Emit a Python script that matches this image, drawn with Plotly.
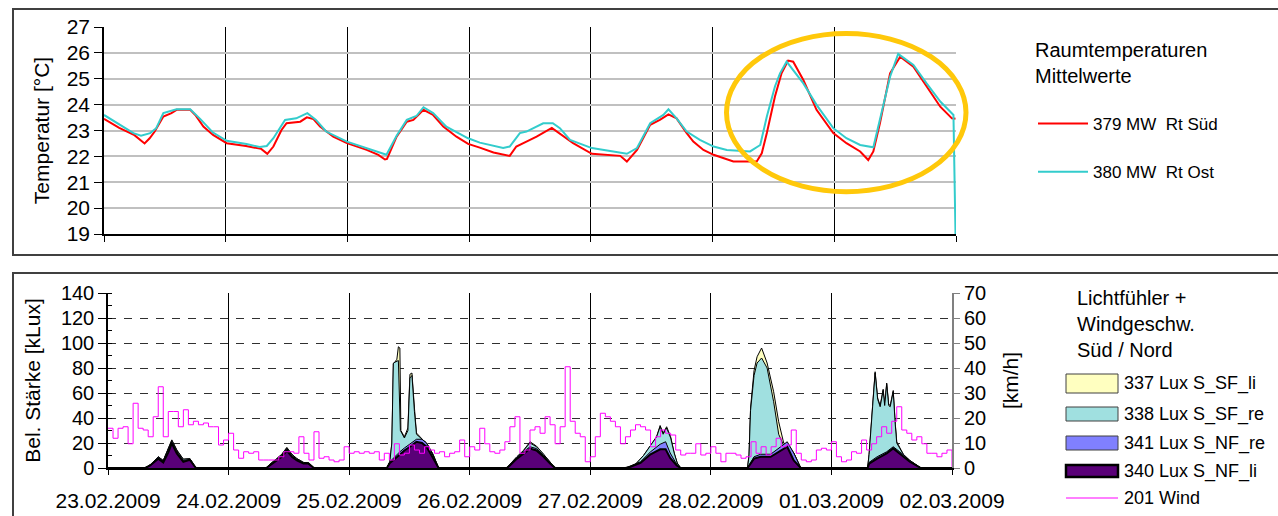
import plotly.graph_objects as go

W, H = 1278, 516
FONT = "Liberation Sans, Arial, sans-serif"

# ---------------- data ----------------
# hours since 23.02.2009 00:00
day_ticks = [0, 24, 48, 72, 96, 120, 144, 168]
day_labels = ["23.02.2009", "24.02.2009", "25.02.2009", "26.02.2009",
              "27.02.2009", "28.02.2009", "01.03.2009", "02.03.2009"]

t_sued = [0, 3, 6, 8, 9, 10, 11.7, 13.3, 14.3, 17, 18, 19.6, 21.5, 24.2, 28, 31, 32.2, 33.4,
          35, 36, 38.7, 40, 41.3, 42.6, 45.2, 47.9, 51.8, 54.1, 55.4, 55.8, 57.7, 59.7, 61,
          63, 64.9, 66.9, 69.5, 71.8, 74.1, 76.8, 80, 81.3, 83.3, 85.3, 88.3, 90.6, 92.5,
          96.2, 100.4, 101.8, 103.1, 105.1, 107.7, 109.6, 111.3, 112.9, 114.9, 116.2, 118.2,
          120.2, 124.1, 128.7, 129.7, 130.7, 132.3, 133.6, 134.9, 135.9, 137.9, 140.5, 143.8,
          146.4, 149.1, 150.7, 151.7, 153, 155, 157, 159.6, 162.2, 164.9, 167.2, 167.9]
v_sued = [23.45, 23.1, 22.82, 22.5, 22.7, 22.96, 23.54, 23.67, 23.8, 23.8, 23.6, 23.15, 22.83,
          22.51, 22.4, 22.29, 22.1, 22.38, 23.02, 23.28, 23.34, 23.51, 23.44, 23.15, 22.76,
          22.51, 22.25, 22.06, 21.88, 21.9, 22.76, 23.34, 23.41, 23.8, 23.6, 23.15, 22.76,
          22.48, 22.34, 22.15, 22.02, 22.38, 22.57, 22.76, 23.1, 22.76, 22.51, 22.1, 22.02,
          22.02, 21.8, 22.25, 23.22, 23.41, 23.62, 23.47, 22.9, 22.57, 22.25, 22.06, 21.8,
          21.8, 22.12, 22.9, 24.31, 25.21, 25.7, 25.66, 24.95, 23.8, 22.9, 22.51, 22.19,
          21.86, 22.19, 23.28, 25.21, 25.85, 25.47, 24.7, 23.92, 23.47, 23.45]

t_ost = [0, 3.2, 5.8, 7.3, 9.1, 10.3, 11.7, 14.3, 17, 19, 21.5, 24.2, 28.1, 30.7, 32.1, 33.4,
         35.7, 37.9, 40.1, 41.8, 43.8, 47.9, 51.8, 55.4, 55.7, 57.7, 59.7, 61.6, 63, 64.9,
         67.5, 71.8, 74.1, 78.7, 80, 82, 83.3, 86.6, 88.5, 89.9, 91.9, 96.2, 99.8, 103.1,
         105.1, 107.7, 110.3, 111.3, 112.9, 114.9, 117.5, 120.2, 122.8, 127.4, 129.4, 130.7,
         132.3, 133.3, 134.6, 137.9, 140.5, 143.8, 146.4, 149.1, 151.7, 153, 155, 156.6,
         159.6, 162.2, 164.9, 167.5, 167.9]
v_ost = [23.6, 23.22, 22.9, 22.8, 22.9, 23.09, 23.67, 23.82, 23.82, 23.44, 22.92, 22.6, 22.48,
         22.36, 22.4, 22.7, 23.41, 23.47, 23.67, 23.41, 22.96, 22.57, 22.32, 22.06, 22.06,
         22.8, 23.41, 23.56, 23.9, 23.67, 23.15, 22.7, 22.53, 22.32, 22.38, 22.9, 22.96,
         23.28, 23.28, 23.09, 22.64, 22.32, 22.19, 22.1, 22.32, 23.28, 23.6, 23.82, 23.47,
         22.96, 22.64, 22.38, 22.25, 22.19, 22.44, 23.54, 24.7, 25.21, 25.66, 24.82, 23.99,
         23.09, 22.7, 22.44, 22.35, 23.41, 25.08, 25.96, 25.53, 24.82, 24.12, 23.6, 19.0]

# light sensors [kLux]
t_340 = [0, 7.4, 8.4, 10, 11, 12, 12.7, 13.7, 15, 16.3, 17.5,
         31.5, 32.2, 33.6, 34.6, 35.6, 36.6, 37.6, 38.9, 39.9, 41,
         55.5, 56.1, 57, 58.1, 59, 60.1, 61.4, 62.5, 63.4, 64.7, 65.8,
         79.4, 80, 81.4, 82.7, 84, 85.3, 86.7, 88, 89,
         103, 104, 106, 108, 109.9, 111, 111.9, 113.2, 114,
         127.3, 128.6, 129.9, 131.9, 133.9, 135.2, 136.5, 137.9,
         151.2, 151.5, 153.1, 155, 156.3, 157.6, 159.6, 161.8, 168]
v_340 = [0, 0, 2, 7.5, 4.5, 12.5, 19.7, 11.7, 5, 6.5, 0,
         0, 2, 6, 9, 14, 9, 6, 3.5, 3.5, 0,
         0, 4, 7, 11, 14, 17, 21, 20, 17, 8, 0,
         0, 2, 7.5, 11.5, 15.5, 14, 9, 3.5, 0,
         0, 1, 4, 11, 15, 15, 8, 2, 0,
         0, 7.5, 9, 9, 14, 17, 6, 0,
         0, 3.5, 7.5, 11.7, 15.7, 11.7, 5, 0, 0]

t_341 = t_340
v_341 = [0, 0, 2.5, 8.5, 5.5, 14, 21, 13, 6, 7, 0,
         0, 2.5, 7, 10, 15.5, 10, 7, 4, 4, 0,
         0, 5, 9, 13, 16, 19, 23, 23, 20, 10, 0,
         0, 2.5, 8.5, 13, 17, 15.5, 10, 4, 0,
         0, 1.5, 5, 13, 19, 21, 12, 3, 0,
         0, 9, 11, 11, 17, 21, 12, 0,
         0, 4.5, 9, 13, 17, 13, 6, 0, 0]

t_338 = [0, 7.4, 8.4, 10, 11, 12, 12.7, 13.7, 15, 16.3, 17.5,
         31.5, 32.2, 33.6, 34.6, 35.6, 36.6, 37.6, 38.9, 39.9, 41,
         55.5, 56.1, 56.5, 56.8, 57.8, 58.2, 59.0, 59.7, 60.1, 60.5, 61.0, 61.4, 62.8, 63.4, 64.7, 65.8,
         79.4, 80, 81.4, 82.7, 84, 85.3, 86.7, 88, 89,
         103.5, 105, 106.6, 107.9, 109.2, 109.9, 110.5, 111.2, 112, 112.7, 113.3, 114,
         127.3, 127.6, 127.9, 128.6, 129.2, 130.1, 131.2, 132.5, 133.5, 134.5, 135.5, 136.5, 137.2, 137.9,
         151.2, 151.5, 152.2, 152.7, 153.2, 153.7, 154.3, 154.6, 155, 155.4, 155.7, 156.3, 156.7, 157,
         158.3, 159.6, 161.8, 168]
v_338 = [0, 0, 2.5, 9, 6, 15, 22, 14, 7, 7.5, 0,
         0, 3, 7.5, 11, 16, 11, 7.5, 4.5, 4, 0,
         0, 5, 20, 84, 86, 30, 24, 30, 72, 74, 45, 27, 22, 20, 11, 0,
         0, 3, 9, 14, 20, 17, 11, 4.5, 0,
         0, 3, 10, 17, 25, 33, 27, 32, 24, 12, 4, 0,
         0, 10, 46, 74, 84, 88, 80, 53, 27, 18, 17, 12, 6, 0,
         0, 11, 49, 76, 55, 49, 62, 50, 67, 50, 49, 61, 35, 20,
         11, 6, 0, 0]

t_337 = [0, 7.4, 8.4, 10, 11, 12, 12.7, 13.7, 15, 16.3, 17.5,
         31.5, 32.2, 33.6, 34.6, 35.6, 36.6, 37.6, 38.9, 39.9, 41,
         55.5, 56.1, 56.5, 56.8, 57.5, 57.8, 58.1, 58.3, 59.0, 59.7, 60.1, 60.5, 61.0, 61.4, 62.8, 63.4, 64.7, 65.8,
         79.4, 80, 81.4, 82.7, 84, 85.3, 86.7, 88, 89,
         103.5, 105, 106.6, 107.9, 109.2, 109.9, 110.5, 111.2, 112, 112.7, 113.3, 114,
         127.3, 127.6, 127.9, 128.6, 129.2, 130.1, 131.2, 132.5, 133.5, 134.5, 135.5, 136.5, 137.2, 137.9,
         151.2, 151.5, 152.2, 152.7, 153.2, 153.7, 154.3, 154.6, 155, 155.4, 155.7, 156.3, 156.7, 157,
         158.3, 159.6, 161.8, 168]
v_337 = [0, 0, 2.5, 9, 6, 15.5, 22.5, 14.5, 7, 7.5, 0,
         0, 3, 7.5, 11, 16.5, 11, 7.5, 4.5, 4, 0,
         0, 5, 20, 83, 87, 97, 96, 30, 25, 32, 75, 76, 48, 28, 22, 20, 11, 0,
         0, 3, 9, 14, 21, 17.5, 11, 4.5, 0,
         0, 3, 10, 17, 25, 34, 28, 33, 25, 12, 4, 0,
         0, 11, 48, 78, 89, 96, 84, 61, 37, 20, 18, 12, 6, 0,
         0, 11, 50, 77, 56, 50, 63, 51, 68, 51, 50, 62, 36, 21,
         11, 6, 0, 0]

# wind [km/h], hourly
t_wind = list(range(0, 169))
v_wind = [15.9, 11.9, 15.9, 16.5, 9.7, 25.9, 15.9, 15.2, 12.5, 20.5, 32.5, 12.5, 22.6, 22.6,
          16.5, 23.3, 17.3, 18.7, 17.3, 18.0, 16.5, 16.5, 9.2, 11.2, 13.9, 7.2, 3.9, 6.5, 5.9,
          6.5, 3.2, 3.2, 3.2, 3.2, 4.5, 6.5, 6.5, 5.9, 12.5, 5.9, 3.2, 14.5, 3.9, 4.5, 3.2,
          2.5, 3.2, 8.5, 5.9, 6.5, 5.9, 6.5, 5.9, 6.5, 3.2, 5.9, 3.2, 9.7, 5.2, 5.9, 9.2, 7.2,
          5.9, 8.5, 7.2, 5.9, 6.5, 4.5, 5.9, 6.5, 11.2, 4.5, 8.5, 7.2, 15.9, 9.7, 6.5, 5.9,
          7.2, 10.5, 16.5, 20.5, 5.9, 7.2, 15.2, 16.5, 13.9, 20.5, 17.3, 9.7, 16.5, 40.5,
          18.7, 13.9, 12.5, 2.5, 4.5, 12.5, 21.9, 20.5, 18.7, 16.5, 9.7, 12.5, 15.2, 17.3,
          16.5, 15.2, 8.5, 12.5, 15.2, 13.9, 13.2, 7.2, 5.2, 5.9, 5.9, 9.7, 5.2, 5.9, 8.5,
          5.9, 2.5, 5.9, 5.9, 5.2, 3.9, 4.5, 10.5, 5.9, 8.5, 5.2, 8.5, 11.9, 8.5, 9.2, 15.2,
          5.9, 3.2, 2.5, 3.2, 7.2, 7.9, 7.2, 10.5, 4.5, 2.5, 3.2, 6.5, 5.9, 11.2, 7.2, 9.7,
          12.5, 16.5, 13.9, 18.7, 24.5, 15.2, 13.9, 11.2, 12.5, 9.7, 5.9, 5.9, 4.5, 5.9,
          7.2, 0.5]

temp_ticks = [19, 20, 21, 22, 23, 24, 25, 26, 27]
lux_ticks = [0, 20, 40, 60, 80, 100, 120, 140]
wind_ticks = [0, 10, 20, 30, 40, 50, 60, 70]

# ---------------- helpers (pixel -> paper) ----------------
def px(x):
    return x / W

def py(y):
    return 1 - y / H

fig = go.Figure()

# top panel traces
fig.add_trace(go.Scatter(x=t_sued, y=v_sued, mode="lines", name="379 MW  Rt Süd",
                         line=dict(color="#FF0000", width=2), xaxis="x", yaxis="y",
                         legend="legend", legendgroup="a"))
fig.add_trace(go.Scatter(x=t_ost, y=v_ost, mode="lines", name="380 MW  Rt Ost",
                         line=dict(color="#33CCCC", width=2), xaxis="x", yaxis="y",
                         legend="legend", legendgroup="b"))

# bottom panel areas (drawn back to front)
areas = [
    (t_337, v_337, "337 Lux S_SF_li", "#FFFFC0", 1),
    (t_338, v_338, "338 Lux S_SF_re", "#A0E0E0", 1),
    (t_341, v_341, "341 Lux S_NF_re", "#8080FF", 1),
    (t_340, v_340, "340 Lux S_NF_li", "#5A0078", 2),
]
for tx, vy, nm, col, lw in areas:
    fig.add_trace(go.Scatter(x=tx, y=vy, mode="lines", name=nm, fill="tozeroy",
                             fillcolor=col, line=dict(color="#000000", width=lw),
                             xaxis="x2", yaxis="y2", showlegend=False))

fig.add_trace(go.Scatter(x=t_wind, y=v_wind, mode="lines", name="201 Wind",
                         line=dict(color="#FF00FF", width=1, shape="hv"),
                         xaxis="x2", yaxis="y3", showlegend=False))

# ---------------- layout ----------------
top_x = [px(104), px(956)]
top_y = [py(234), py(27)]
bot_x = [px(108), px(952)]
bot_y = [py(468), py(293)]

shapes = []
# frames
shapes.append(dict(type="rect", xref="paper", yref="paper", x0=px(13), x1=px(1300),
                   y0=py(255), y1=py(9), line=dict(color="#404040", width=2), layer="below"))
shapes.append(dict(type="rect", xref="paper", yref="paper", x0=px(13), x1=px(1300),
                   y0=py(530), y1=py(273), line=dict(color="#404040", width=2), layer="below"))
# highlight ellipse
shapes.append(dict(type="circle", xref="paper", yref="paper", x0=px(726.5), x1=px(966),
                   y0=py(191.7), y1=py(33.5), line=dict(color="#FFC80A", width=5)))

# bottom legend swatches
leg_items = [
    ("337 Lux S_SF_li", "#FFFFC0", 1, 374, 393, 383),
    ("338 Lux S_SF_re", "#A0E0E0", 1, 407, 421, 414),
    ("341 Lux S_NF_re", "#8080FF", 1, 436, 450, 443),
    ("340 Lux S_NF_li", "#5A0078", 2.5, 465, 477, 471),
]
annotations = []
for nm, col, lw, y0, y1, yc in leg_items:
    shapes.append(dict(type="rect", xref="paper", yref="paper", x0=px(1066), x1=px(1118),
                       y0=py(y1), y1=py(y0), fillcolor=col,
                       line=dict(color="#000000" if lw > 1 else "#404040", width=lw)))
    annotations.append(dict(xref="paper", yref="paper", x=px(1122), y=py(yc), text=nm,
                            showarrow=False, xanchor="left", yanchor="middle",
                            font=dict(family=FONT, size=18, color="#000000")))
shapes.append(dict(type="line", xref="paper", yref="paper", x0=px(1066), x1=px(1118),
                   y0=py(498), y1=py(498), line=dict(color="#FF00FF", width=1)))
annotations.append(dict(xref="paper", yref="paper", x=px(1122), y=py(498), text="201 Wind",
                        showarrow=False, xanchor="left", yanchor="middle",
                        font=dict(family=FONT, size=18, color="#000000")))

# legend titles
annotations.append(dict(xref="paper", yref="paper", x=px(1033), y=py(37),
                        text="Raumtemperaturen<br>Mittelwerte", showarrow=False,
                        xanchor="left", yanchor="top", align="left",
                        font=dict(family=FONT, size=20, color="#000000")))
annotations.append(dict(xref="paper", yref="paper", x=px(1075), y=py(285),
                        text="Lichtfühler +<br>Windgeschw.<br>Süd / Nord", showarrow=False,
                        xanchor="left", yanchor="top", align="left",
                        font=dict(family=FONT, size=20, color="#000000")))

fig.update_layout(
    width=W, height=H,
    margin=dict(l=0, r=0, t=0, b=0, autoexpand=False),
    paper_bgcolor="#FFFFFF", plot_bgcolor="rgba(0,0,0,0)",
    font=dict(family=FONT, color="#000000"),
    shapes=shapes, annotations=annotations,
    xaxis=dict(domain=top_x, anchor="y", range=[0, 168], tickvals=day_ticks,
               showticklabels=False, ticks="outside", ticklen=6, tickcolor="#000000",
               showgrid=True, gridcolor="#000000", gridwidth=1, automargin=False,
               showline=True, linecolor="#000000", linewidth=1.5, zeroline=False),
    yaxis=dict(domain=top_y, anchor="x", range=[19, 27], tickvals=temp_ticks,
               ticks="outside", ticklen=8, tickcolor="#000000", automargin=False,
               tickfont=dict(size=21), showgrid=True, gridcolor="#C0C0C0", gridwidth=1.5,
               showline=True, linecolor="#000000", linewidth=1.5, zeroline=False,
               title=dict(text="Temperatur [°C]", font=dict(size=21), standoff=11)),
    xaxis2=dict(domain=bot_x, anchor="y2", range=[0, 168], tickvals=day_ticks,
                ticktext=day_labels, ticks="outside", ticklen=5, tickcolor="#000000",
                tickfont=dict(size=21), ticklabelstandoff=8, automargin=False,
                showgrid=True, gridcolor="#000000", gridwidth=1,
                showline=True, linecolor="#000000", linewidth=2, zeroline=False),
    yaxis2=dict(domain=bot_y, anchor="x2", range=[0, 140], tickvals=lux_ticks,
                ticks="outside", ticklen=8, tickcolor="#000000", tickfont=dict(size=20),
                minor=dict(ticks="inside", ticklen=4, dtick=10, tickcolor="#000000",
                           showgrid=False), automargin=False,
                showgrid=True, gridcolor="#303030", gridwidth=1, griddash="8px,8px",
                showline=True, linecolor="#000000", linewidth=1.5, zeroline=False,
                title=dict(text="Bel. Stärke [kLux]", font=dict(size=21), standoff=15)),
    yaxis3=dict(overlaying="y2", anchor="x2", side="right", range=[0, 70],
                tickvals=wind_ticks, ticks="outside", ticklen=6, tickcolor="#808080",
                tickfont=dict(size=20), showgrid=False, automargin=False,
                showline=True, linecolor="#808080", linewidth=2, zeroline=False,
                title=dict(text="[km/h]", font=dict(size=21), standoff=18)),
    legend=dict(x=px(1033), y=py(106), xanchor="left", yanchor="top",
                font=dict(family=FONT, size=17, color="#000000"),
                itemwidth=50, tracegroupgap=23, bgcolor="rgba(0,0,0,0)",
                borderwidth=0),
    showlegend=True,
)

fig.write_html("out.html", config={"displayModeBar": False},
               post_script="document.body.style.margin='0px';")
